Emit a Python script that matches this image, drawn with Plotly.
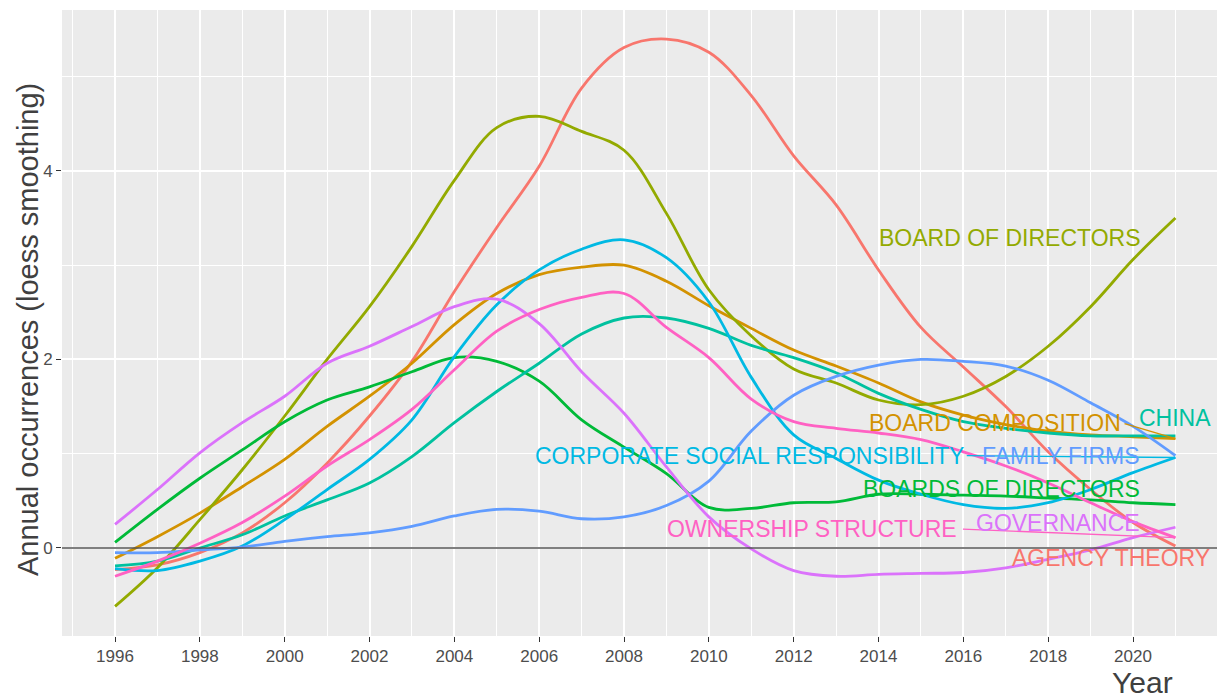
import plotly.graph_objects as go

years = list(range(1996, 2022))

agency_theory = [-0.23, -0.18, -0.05, 0.16, 0.48, 0.90, 1.40, 1.98, 2.72, 3.40, 4.05, 4.88, 5.31, 5.40, 5.26, 4.80, 4.16, 3.64, 2.95, 2.34, 1.92, 1.50, 1.02, 0.62, 0.27, 0.02]
board_composition = [-0.11, 0.12, 0.37, 0.65, 0.94, 1.29, 1.61, 1.96, 2.37, 2.70, 2.90, 2.98, 3.00, 2.83, 2.57, 2.33, 2.10, 1.93, 1.75, 1.55, 1.41, 1.31, 1.24, 1.20, 1.18, 1.16]
board_of_directors = [-0.62, -0.21, 0.30, 0.83, 1.40, 2.00, 2.56, 3.20, 3.90, 4.46, 4.58, 4.42, 4.22, 3.55, 2.74, 2.25, 1.90, 1.75, 1.57, 1.52, 1.61, 1.82, 2.14, 2.56, 3.06, 3.50]
boards_of_directors = [0.06, 0.41, 0.74, 1.04, 1.34, 1.57, 1.71, 1.87, 2.02, 1.98, 1.77, 1.36, 1.07, 0.79, 0.43, 0.42, 0.48, 0.49, 0.57, 0.57, 0.56, 0.55, 0.53, 0.51, 0.48, 0.46]
china = [-0.19, -0.14, 0.00, 0.14, 0.34, 0.51, 0.69, 0.97, 1.33, 1.66, 1.96, 2.27, 2.44, 2.44, 2.33, 2.15, 2.02, 1.86, 1.64, 1.47, 1.34, 1.27, 1.22, 1.19, 1.19, 1.19]
csr = [-0.22, -0.24, -0.14, 0.02, 0.30, 0.62, 0.94, 1.36, 2.03, 2.58, 2.95, 3.17, 3.27, 3.08, 2.61, 1.81, 1.20, 0.95, 0.72, 0.57, 0.46, 0.42, 0.48, 0.62, 0.80, 0.96]
family_firms = [-0.05, -0.05, -0.02, 0.01, 0.07, 0.12, 0.16, 0.23, 0.34, 0.41, 0.39, 0.31, 0.33, 0.45, 0.71, 1.24, 1.62, 1.82, 1.94, 2.00, 1.98, 1.93, 1.78, 1.54, 1.29, 0.98]
governance = [0.25, 0.62, 1.01, 1.33, 1.61, 1.96, 2.14, 2.35, 2.56, 2.64, 2.38, 1.87, 1.43, 0.86, 0.33, -0.01, -0.24, -0.30, -0.28, -0.27, -0.26, -0.21, -0.12, -0.02, 0.11, 0.22]
ownership_structure = [-0.30, -0.14, 0.05, 0.27, 0.55, 0.87, 1.15, 1.47, 1.89, 2.30, 2.53, 2.66, 2.70, 2.34, 2.02, 1.58, 1.34, 1.27, 1.22, 1.15, 1.02, 0.87, 0.69, 0.48, 0.28, 0.11]

series_names = ["AGENCY THEORY", "BOARD COMPOSITION", "BOARD OF DIRECTORS", "BOARDS OF DIRECTORS",
                "CHINA", "CORPORATE SOCIAL RESPONSIBILITY", "FAMILY FIRMS", "GOVERNANCE", "OWNERSHIP STRUCTURE"]
series_values = [agency_theory, board_composition, board_of_directors, boards_of_directors,
                 china, csr, family_firms, governance, ownership_structure]
colors = ["#F8766D", "#D39200", "#93AA00", "#00BA38", "#00C19F", "#00B9E3", "#619CFF", "#DB72FB", "#FF61C3"]

# label placement (data coords of label centre)
label_x = [2019.48, 2016.74, 2017.10, 2016.90, 2021.0, 2010.95, 2018.30, 2018.23, 2012.43]
label_y = [-0.11, 1.33, 3.29, 0.63, 1.38, 0.98, 0.98, 0.27, 0.20]
# leader segments: (series index, start x, start y)
segments = [(1, 2019.80, 1.32), (5, 2016.08, 0.98), (8, 2015.99, 0.20)]

FONT = "Liberation Sans, Arial, sans-serif"
L, R, T, B = 62, 0, 10, 62
W, H = 1217, 698
PW, PH = W - L - R, H - T - B

fig = go.Figure()

for name, vals, col in zip(series_names, series_values, colors):
    fig.add_trace(go.Scatter(x=years, y=vals, mode="lines", name=name,
                             line=dict(color=col, width=2.8, shape="spline", smoothing=1.0),
                             hoverinfo="skip", showlegend=False))

fig.add_hline(y=0, line=dict(color="#555555", width=1.6), layer="above")

for idx, sx, sy in segments:
    fig.add_trace(go.Scatter(x=[sx, years[-1]], y=[sy, series_values[idx][-1]], mode="lines",
                             line=dict(color=colors[idx], width=1.3), hoverinfo="skip", showlegend=False))

for name, col, lx, ly in zip(series_names, colors, label_x, label_y):
    fig.add_annotation(x=lx, y=ly, text=name, showarrow=False, xanchor="center", yanchor="middle",
                       font=dict(family=FONT, size=23, color=col))

fig.add_annotation(xref="paper", yref="paper", x=(1175 - L) / PW, y=(T + PH - 701) / PH,
                   text="Year", showarrow=False, xanchor="right", yanchor="bottom",
                   font=dict(family=FONT, size=30, color="#404040"))
fig.add_annotation(xref="paper", yref="paper", x=(28 - L) / PW, y=(T + PH - 330) / PH,
                   text="Annual occurrences (loess smoothing)", textangle=-90, showarrow=False,
                   xanchor="center", yanchor="middle",
                   font=dict(family=FONT, size=29, color="#404040"))

fig.update_layout(
    width=W, height=H,
    margin=dict(l=L, r=R, t=T, b=B, autoexpand=False),
    paper_bgcolor="white", plot_bgcolor="#EBEBEB",
    font=dict(family=FONT),
    showlegend=False,
)
fig.update_xaxes(range=[1994.75, 2021.98], tick0=1996, dtick=2, showgrid=True, gridcolor="white", gridwidth=2,
                 minor=dict(tick0=1995, dtick=1, showgrid=True, gridcolor="white", gridwidth=1),
                 ticks="outside", ticklen=5, tickwidth=1.2, tickcolor="#333333", automargin=False,
                 tickfont=dict(family=FONT, size=17, color="#4D4D4D"), zeroline=False, showline=False)
fig.update_yaxes(range=[-0.934, 5.708], tick0=0, dtick=2, showgrid=True, gridcolor="white", gridwidth=2,
                 minor=dict(tick0=0, dtick=1, showgrid=True, gridcolor="white", gridwidth=1),
                 ticks="outside", ticklen=5, tickwidth=1.2, tickcolor="#333333", automargin=False,
                 tickfont=dict(family=FONT, size=17, color="#4D4D4D"), zeroline=False, showline=False)

fig.write_html("out.html", config={"displayModeBar": False},
               post_script="document.body.style.margin='0';document.body.style.overflow='hidden';")
